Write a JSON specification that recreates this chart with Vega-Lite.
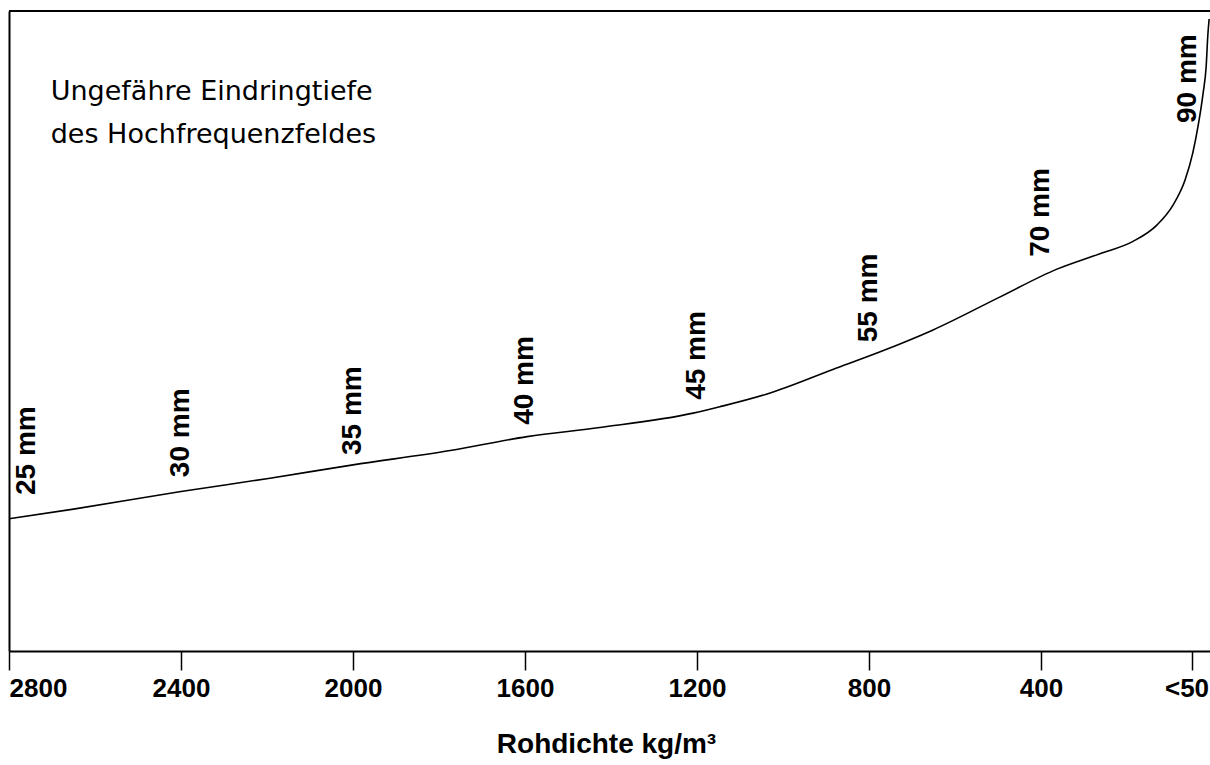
{
  "$schema": "https://vega.github.io/schema/vega-lite/v6.json",
  "width": 1201,
  "height": 640,
  "autosize": {"type": "none"},
  "padding": {"left": 9, "top": 11, "right": 0, "bottom": 114},
  "background": "white",
  "config": {"view": {"stroke": null}},
  "datasets": {
    "curve": [
      {"density": 2800, "depth": 24.8},
      {"density": 2650, "depth": 26.6},
      {"density": 2400, "depth": 29.9},
      {"density": 2193, "depth": 32.4},
      {"density": 2000, "depth": 34.9},
      {"density": 1774, "depth": 37.6},
      {"density": 1595, "depth": 40.2},
      {"density": 1426, "depth": 41.9},
      {"density": 1209, "depth": 44.6},
      {"density": 1147, "depth": 45.8},
      {"density": 1037, "depth": 48.2},
      {"density": 884, "depth": 52.8},
      {"density": 774, "depth": 56.1},
      {"density": 651, "depth": 60.2},
      {"density": 495, "depth": 66.4},
      {"density": 363, "depth": 71.6},
      {"density": 263, "depth": 74.5},
      {"density": 186, "depth": 76.8},
      {"density": 130, "depth": 79.9},
      {"density": 93, "depth": 83.6},
      {"density": 65, "depth": 88.3},
      {"density": 47, "depth": 93.4},
      {"density": 35, "depth": 98.3},
      {"density": 23, "depth": 104.6},
      {"density": 16, "depth": 109.5},
      {"density": 12, "depth": 115.5},
      {"density": 9, "depth": 118.5}
    ],
    "labels": [
      {"density": 2758, "depth": 29.25, "label": "25 mm"},
      {"density": 2400, "depth": 32.6, "label": "30 mm"},
      {"density": 2000, "depth": 36.75, "label": "35 mm"},
      {"density": 1600, "depth": 42.4, "label": "40 mm"},
      {"density": 1200, "depth": 47.1, "label": "45 mm"},
      {"density": 800, "depth": 57.9, "label": "55 mm"},
      {"density": 400, "depth": 73.9, "label": "70 mm"},
      {"density": 57, "depth": 99.0, "label": "90 mm"}
    ],
    "heading": [
      {"density": 2703, "depth": 103.3}
    ],
    "frame": [
      {"density": 2800, "density2": 7, "depth": 120}
    ]
  },
  "layer": [
    {
      "data": {"name": "curve"},
      "mark": {"type": "line", "color": "black", "strokeWidth": 1.6, "interpolate": "monotone"},
      "encoding": {
        "x": {
          "field": "density",
          "type": "quantitative",
          "scale": {"domain": [7, 2800], "reverse": true, "nice": false, "zero": false},
          "axis": {
            "title": "Rohdichte kg/m³",
            "values": [2800, 2400, 2000, 1600, 1200, 800, 400, 50],
            "labelExpr": "datum.value == 50 ? '<50' : format(datum.value, 'd')",
            "grid": false,
            "domain": true,
            "domainColor": "black",
            "domainWidth": 2,
            "ticks": true,
            "tickColor": "black",
            "tickWidth": 1.5,
            "tickSize": 19,
            "labelPadding": 5,
            "labelFlush": true,
            "labelOverlap": false,
            "labelOffset": {"condition": {"test": "datum.value == 50", "value": -5}, "value": 0},
            "labelFont": "Liberation Sans",
            "labelFontWeight": "bold",
            "labelFontSize": 26,
            "labelColor": "black",
            "titleFont": "Liberation Sans",
            "titleFontWeight": "bold",
            "titleFontSize": 28,
            "titleColor": "black",
            "titleX": 597,
            "titleY": 101,
            "titleAlign": "center",
            "titleBaseline": "alphabetic"
          }
        },
        "y": {
          "field": "depth",
          "type": "quantitative",
          "scale": {"domain": [0, 120], "nice": false, "zero": false},
          "axis": {
            "title": null,
            "labels": false,
            "ticks": false,
            "grid": false,
            "domain": true,
            "domainColor": "black",
            "domainWidth": 2
          }
        },
        "order": {"field": "density", "sort": "descending"}
      }
    },
    {
      "data": {"name": "labels"},
      "mark": {
        "type": "text",
        "angle": 270,
        "align": "left",
        "baseline": "middle",
        "font": "Liberation Sans",
        "fontWeight": "bold",
        "fontSize": 28,
        "color": "black"
      },
      "encoding": {
        "x": {"field": "density", "type": "quantitative"},
        "y": {"field": "depth", "type": "quantitative"},
        "text": {"field": "label", "type": "nominal"}
      }
    },
    {
      "data": {"name": "heading"},
      "mark": {
        "type": "text",
        "text": ["Ungefähre Eindringtiefe", "des Hochfrequenzfeldes"],
        "align": "left",
        "baseline": "alphabetic",
        "font": "DejaVu Sans",
        "fontSize": 27,
        "lineHeight": 43,
        "color": "black"
      },
      "encoding": {
        "x": {"field": "density", "type": "quantitative"},
        "y": {"field": "depth", "type": "quantitative"}
      }
    },
    {
      "data": {"name": "frame"},
      "mark": {"type": "rule", "color": "black", "strokeWidth": 2},
      "encoding": {
        "x": {"field": "density", "type": "quantitative"},
        "x2": {"field": "density2"},
        "y": {"field": "depth", "type": "quantitative"}
      }
    }
  ]
}
